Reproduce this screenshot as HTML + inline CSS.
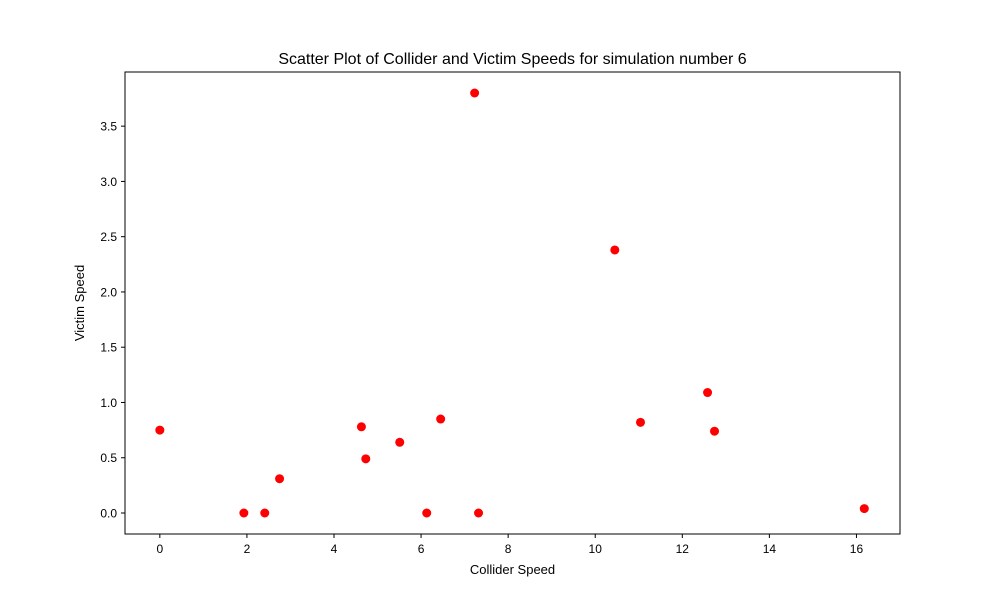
<!DOCTYPE html>
<html><head><meta charset="utf-8"><style>
html,body{margin:0;padding:0;background:#fff;}
svg{display:block;font-family:"Liberation Sans","DejaVu Sans",sans-serif;}
</style></head><body>
<svg id="chart" width="1000" height="600" viewBox="0 0 1000 600">
<rect width="1000" height="600" fill="#fff"/>
<text x="512.5" y="64" text-anchor="middle" font-size="16">Scatter Plot of Collider and Victim Speeds for simulation number 6</text>
<g id="ticks"></g>
<g id="points"></g>
<rect x="125" y="72" width="775" height="462" fill="none" stroke="#000" stroke-width="1"/>
<text x="512.5" y="574" text-anchor="middle" font-size="13">Collider Speed</text>
<text transform="translate(84,303) rotate(-90)" text-anchor="middle" font-size="13">Victim Speed</text>
</svg>
<script>
const colliderSpeeds = [0, 1.93, 2.41, 2.75, 4.63, 4.73, 5.51, 6.13, 6.45, 7.23, 7.32, 10.45, 11.04, 12.58, 12.74, 16.18];
const victimSpeeds = [0.75, 0, 0, 0.31, 0.78, 0.49, 0.64, 0, 0.85, 3.80, 0, 2.38, 0.82, 1.09, 0.74, 0.04];
const xTicks = [0, 2, 4, 6, 8, 10, 12, 14, 16];
const yTicks = [0.0, 0.5, 1.0, 1.5, 2.0, 2.5, 3.0, 3.5];
const xMin = -0.8, xMax = 17.0, yMin = -0.19, yMax = 3.99;
const L = 125, R = 900, T = 72, B = 534;
function sx(v){ return L + (v - xMin) / (xMax - xMin) * (R - L); }
function sy(v){ return B - (v - yMin) / (yMax - yMin) * (B - T); }
const NS = "http://www.w3.org/2000/svg";
const tg = document.getElementById('ticks');
const pg = document.getElementById('points');
xTicks.forEach(t => {
  const x = sx(t);
  const ln = document.createElementNS(NS, 'line');
  ln.setAttribute('x1', x); ln.setAttribute('x2', x); ln.setAttribute('y1', B); ln.setAttribute('y2', B + 4);
  ln.setAttribute('stroke', '#000');
  
  
  tg.appendChild(ln);
  const tx = document.createElementNS(NS, 'text');
  tx.setAttribute('x', x); tx.setAttribute('y', B + 19);
  tx.setAttribute('text-anchor', 'middle'); tx.setAttribute('font-size', '12');
  tx.textContent = String(t);
  
  
  tg.appendChild(tx);
});
yTicks.forEach(t => {
  const y = sy(t);
  const ln = document.createElementNS(NS, 'line');
  ln.setAttribute('x1', L - 4); ln.setAttribute('x2', L); ln.setAttribute('y1', y); ln.setAttribute('y2', y);
  ln.setAttribute('stroke', '#000');
  
  
  tg.appendChild(ln);
  const tx = document.createElementNS(NS, 'text');
  tx.setAttribute('x', L - 8); tx.setAttribute('y', y + 4.5);
  tx.setAttribute('text-anchor', 'end'); tx.setAttribute('font-size', '12');
  tx.textContent = t.toFixed(1);
  
  
  tg.appendChild(tx);
});
colliderSpeeds.forEach((v, i) => {
  const c = document.createElementNS(NS, 'circle');
  c.setAttribute('cx', sx(v)); c.setAttribute('cy', sy(victimSpeeds[i]));
  c.setAttribute('r', 4.5); c.setAttribute('fill', '#ff0000');
  
  
  pg.appendChild(c);
});
</script>
</body></html>
